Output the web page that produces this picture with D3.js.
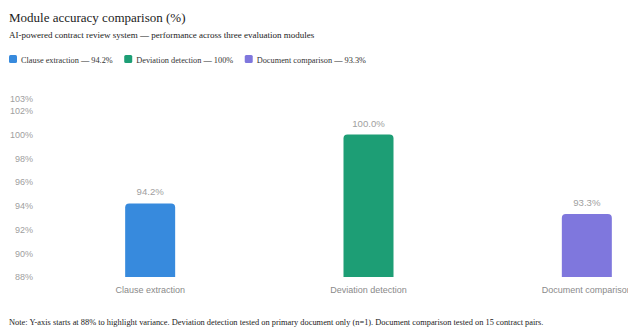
<!DOCTYPE html>
<html><head><meta charset="utf-8">
<script src="https://cdn.jsdelivr.net/npm/d3@7"></script>
<style>
html,body{margin:0;padding:0;background:#fff;overflow:hidden;}
svg{display:block;}
</style></head>
<body>
<svg id="c" width="628" height="329"></svg>
<script>
const categories = ["Clause extraction", "Deviation detection", "Document comparison"];
const values = [94.2, 100.0, 93.3];
const legendLabels = ["Clause extraction — 94.2%", "Deviation detection — 100%", "Document comparison — 93.3%"];
const colors = ["#378ADD", "#1D9E75", "#7F77DD"];
const yTicks = [88, 90, 92, 94, 96, 98, 100, 102, 103];
const yDomain = [88, 103];

const svg = d3.select("#c");
const serif = "'Liberation Serif','Times New Roman',serif";
const sans = "'Liberation Sans',Arial,sans-serif";

svg.append("text").attr("x", 9).attr("y", 22).attr("font-family", serif)
  .attr("font-size", 13).attr("fill", "#222").text("Module accuracy comparison (%)");
svg.append("text").attr("x", 9).attr("y", 38).attr("font-family", serif)
  .attr("font-size", 9).attr("fill", "#222")
  .text("AI-powered contract review system — performance across three evaluation modules");

// legend
let lx = 9;
const lg = svg.append("g");
legendLabels.forEach((t, i) => {
  lg.append("rect").attr("x", lx).attr("y", 55).attr("width", 8).attr("height", 8)
    .attr("rx", 1.5).attr("fill", colors[i]);
  const tx = lg.append("text").attr("x", lx + 12).attr("y", 62.5).attr("font-family", serif)
    .attr("font-size", 8.3).attr("fill", "#333").text(t);
  lx += 12 + tx.node().getComputedTextLength() + 11.5;
});

const y = d3.scaleLinear().domain(yDomain).range([277, 99]);
const x = d3.scaleBand().domain(categories).range([41, 696]);
const barW = 50;

const yAxis = d3.axisLeft(y).tickValues(yTicks).tickFormat(d => d + "%").tickSize(0).tickPadding(0);
const ya = svg.append("g").attr("transform", "translate(33,0)").call(yAxis);
ya.select(".domain").remove();
ya.selectAll("text").attr("font-family", sans).attr("font-size", 9).attr("fill", "#a0a0a0");

const xAxis = d3.axisBottom(x).tickSize(0).tickPadding(10);
const xa = svg.append("g").attr("transform", "translate(0,277)").call(xAxis);
xa.select(".domain").remove();
xa.selectAll("text").attr("font-family", sans).attr("font-size", 9).attr("fill", "#8a8a8a");

function barPath(x0, y0, w, h, r) {
  return `M${x0},${y0 + h}V${y0 + r}Q${x0},${y0} ${x0 + r},${y0}H${x0 + w - r}Q${x0 + w},${y0} ${x0 + w},${y0 + r}V${y0 + h}Z`;
}

categories.forEach((c, i) => {
  const cx = x(c) + x.bandwidth() / 2;
  const top = y(values[i]);
  svg.append("path").attr("d", barPath(cx - barW / 2, top, barW, y(yDomain[0]) - top, 4))
    .attr("fill", colors[i]);
  svg.append("text").attr("x", cx).attr("y", top - 8).attr("text-anchor", "middle")
    .attr("font-family", sans).attr("font-size", 9.6).attr("fill", "#a0a0a0")
    .text(values[i].toFixed(1) + "%");
});

svg.append("text").attr("x", 9).attr("y", 325).attr("font-family", serif)
  .attr("font-size", 8.4).attr("fill", "#222")
  .text("Note: Y-axis starts at 88% to highlight variance. Deviation detection tested on primary document only (n=1). Document comparison tested on 15 contract pairs.");
</script>
</body></html>
